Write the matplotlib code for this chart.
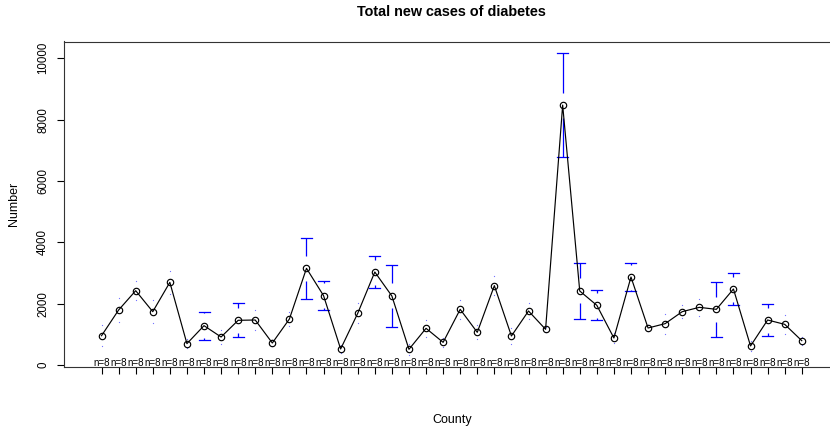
import matplotlib
matplotlib.use('Agg')
import matplotlib.pyplot as plt
import matplotlib.transforms as mtransforms

# ---- data ----
county_index = list(range(1, 43))
means = [955, 1793, 2423, 1739, 2695, 696, 1283, 913, 1457, 1467,
         717, 1500, 3152, 2261, 522, 1685, 3032, 2250, 511, 1196,
         739, 1815, 1065, 2587, 946, 1761, 1163, 8474, 2413, 1946,
         880, 2869, 1206, 1348, 1739, 1880, 1815, 2478, 620, 1467,
         1326, 793]
ci_half = [337, 390, 315, 380, 375, 150, 457, 212, 549, 320,
           100, 220, 989, 478, 130, 326, 522, 1000, 180, 272,
           140, 315, 228, 300, 260, 255, 80, 1702, 919, 484,
           170, 457, 100, 330, 217, 277, 897, 527, 160, 511,
           315, 135]
n_obs = [8] * 42
y_ticks = [0, 2000, 4000, 6000, 8000, 10000]

plt.rcParams['font.family'] = ['Liberation Sans', 'DejaVu Sans']

W_PX, H_PX = 830, 429
fig = plt.figure(figsize=(W_PX / 100, H_PX / 100), dpi=100)
ax_l, ax_r, ax_t, ax_b = 64.3, 839.0, 41.5, 367.3
ax = fig.add_axes([ax_l / W_PX, 1 - ax_b / H_PX, (ax_r - ax_l) / W_PX, (ax_b - ax_t) / H_PX])
xlim = (-1.18, 44.18)
ylim = (-75, 10548)
ax.set_xlim(*xlim)
ax.set_ylim(*ylim)

px_per_y = (ax_b - ax_t) / (ylim[1] - ylim[0])
px_per_x = (ax_r - ax_l) / (xlim[1] - xlim[0])
gap = 12.5 / px_per_y
cap = 5.5 / px_per_x

blue = '#0000ff'
for xi, m, c in zip(county_index, means, ci_half):
    hi, lo = m + c, m - c
    if c > gap:
        ax.plot([xi, xi], [m + gap, hi], color=blue, lw=0.9, solid_capstyle='butt')
        ax.plot([xi, xi], [m - gap, lo], color=blue, lw=0.9, solid_capstyle='butt')
        ax.plot([xi - cap, xi + cap], [hi, hi], color=blue, lw=0.9)
        ax.plot([xi - cap, xi + cap], [lo, lo], color=blue, lw=0.9)
    else:
        ax.plot([xi, xi], [hi, lo], linestyle='none', marker='o', ms=0.9,
                mfc='#7070ff', mec='none')

ax.plot(county_index, means, color='black', lw=0.85)
ax.plot(county_index, means, linestyle='none', marker='o', ms=4.6,
        mfc='none', mec='black', mew=0.85)

trans = mtransforms.blended_transform_factory(ax.transData, ax.transAxes)
for xi, n in zip(county_index, n_obs):
    ax.text(xi, 1.5 / (ax_b - ax_t), f'n={n}', transform=trans, ha='center',
            va='baseline', fontsize=7.1)

ax.set_xticks(county_index)
ax.set_xticklabels([''] * len(county_index))
ax.set_yticks(y_ticks)
ax.set_yticklabels([str(v) for v in y_ticks], rotation=90, va='center')
ax.tick_params(axis='both', direction='out', length=5, width=0.8, colors='black',
               labelsize=8.3)
ax.tick_params(axis='y', pad=6)
for s in ax.spines.values():
    s.set_linewidth(0.8)
    s.set_color('#333333')

fig.text(451.7 / W_PX, 1 - 12 / H_PX, 'Total new cases of diabetes', ha='center',
         va='center', fontsize=10.4, fontweight='bold')
fig.text(451.7 / W_PX, 1 - 420 / H_PX, 'County', ha='center', va='center', fontsize=9)
fig.text(14 / W_PX, 1 - 204 / H_PX, 'Number', ha='center', va='center',
         rotation=90, fontsize=9)

fig.savefig('out.png', dpi=100)
